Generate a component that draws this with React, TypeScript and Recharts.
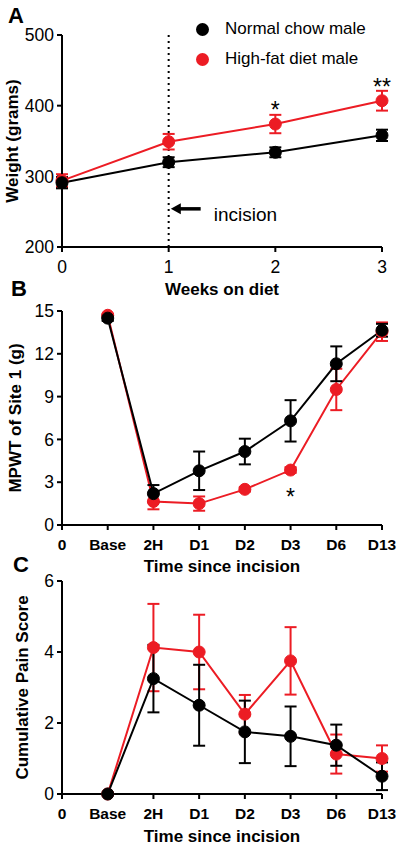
import React from "react";
import {
  LineChart,
  Line,
  XAxis,
  YAxis,
  ErrorBar,
  ReferenceLine,
  ReferenceDot,
  Legend,
  Label,
} from "recharts";

const FONT = '"Liberation Sans", Arial, Helvetica, sans-serif';
const BLACK = "#000000";
const RED = "#ec1c24";

// A: body weight over weeks on diet
const weeks = [0, 1, 2, 3];
const chowWeight = [291, 320, 334, 358];
const chowWeightErr = [8, 7, 7, 8];
const hfdWeight = [294, 349, 374, 407];
const hfdWeightErr = [9, 11, 13, 14];
const weightTicks = [200, 300, 400, 500];

// B + C: time since incision (position 0 is the empty "0" slot)
const timeLabels = ["0", "Base", "2H", "D1", "D2", "D3", "D6", "D13"];
const timePos = [1, 2, 3, 4, 5, 6, 7];
const timeTicks = [0, 1, 2, 3, 4, 5, 6, 7];

// B: MPWT of site 1 (g)
const chowMpwt = [14.5, 2.2, 3.8, 5.15, 7.3, 11.3, 13.65];
const chowMpwtErr = [0.2, 0.6, 1.35, 0.9, 1.45, 1.22, 0.45];
const hfdMpwt = [14.7, 1.65, 1.5, 2.5, 3.85, 9.5, 13.55];
const hfdMpwtErr = [0.1, 0.55, 0.5, 0.15, 0.2, 1.45, 0.65];
const mpwtTicks = [0, 3, 6, 9, 12, 15];

// C: cumulative pain score
const chowPain = [0, 3.25, 2.5, 1.75, 1.625, 1.375, 0.5];
const chowPainErr = [0, 0.95, 1.14, 0.88, 0.84, 0.58, 0.39];
const hfdPain = [0, 4.125, 4.0, 2.25, 3.75, 1.125, 1.0];
const hfdPainErr = [0, 1.23, 1.05, 0.54, 0.95, 0.55, 0.37];
const painTicks = [0, 2, 4, 6];

const weightData = weeks.map((w, i) => ({
  x: w,
  chow: chowWeight[i],
  chowErr: chowWeightErr[i],
  hfd: hfdWeight[i],
  hfdErr: hfdWeightErr[i],
}));

const mpwtData = timePos.map((t, i) => ({
  x: t,
  chow: chowMpwt[i],
  chowErr: chowMpwtErr[i],
  hfd: hfdMpwt[i],
  hfdErr: hfdMpwtErr[i],
}));

const painData = timePos.map((t, i) => ({
  x: t,
  chow: chowPain[i],
  chowErr: chowPainErr[i],
  hfd: hfdPain[i],
  hfdErr: hfdPainErr[i],
}));

const axisLine = { stroke: BLACK, strokeWidth: 2 };
const tickLine = { stroke: BLACK, strokeWidth: 2 };
const numTick = { fill: BLACK, fontSize: 17.5, fontFamily: FONT };
const catTick = { fill: BLACK, fontSize: 15.5, fontWeight: 700, fontFamily: FONT };

const yLabel = (text: string, baseX: number) => (props: any) => {
  const vb = props.viewBox;
  const cy = vb.y + vb.height / 2;
  return (
    <text
      x={baseX}
      y={cy}
      transform={`rotate(-90 ${baseX} ${cy})`}
      textAnchor="middle"
      fontSize={17}
      fontWeight={700}
      fontFamily={FONT}
      fill={BLACK}
    >
      {text}
    </text>
  );
};

const xLabel = (text: string, baseY: number) => (props: any) => {
  const vb = props.viewBox;
  return (
    <text
      x={vb.x + vb.width / 2}
      y={baseY}
      textAnchor="middle"
      fontSize={17}
      fontWeight={700}
      fontFamily={FONT}
      fill={BLACK}
    >
      {text}
    </text>
  );
};

// arrow pointing at the incision line, with its caption
const IncisionArrow = (p: any) => {
  const left = Math.min(p.x1, p.x2);
  const right = Math.max(p.x1, p.x2);
  const y = p.y1;
  return (
    <g>
      <line x1={left + 8} y1={y} x2={right} y2={y} stroke={BLACK} strokeWidth={3.5} />
      <polygon points={`${left},${y} ${left + 10},${y - 5.5} ${left + 10},${y + 5.5}`} fill={BLACK} />
      <text x={right + 13} y={y + 12} fontSize={19} fontFamily={FONT} fill={BLACK}>
        incision
      </text>
    </g>
  );
};

const LegendBox = ({ payload }: any) => {
  const items = [...(payload || [])].reverse();
  return (
    <div style={{ fontFamily: FONT }}>
      {items.map((it: any) => (
        <div key={it.value} style={{ height: 30, display: "flex", alignItems: "center" }}>
          <span
            style={{
              width: 13,
              height: 13,
              borderRadius: "50%",
              background: it.color,
              display: "inline-block",
              marginRight: 16,
            }}
          />
          <span style={{ fontSize: 17, color: BLACK }}>{it.value}</span>
        </div>
      ))}
    </div>
  );
};

const star = (text: string) => ({
  value: text,
  position: "center" as const,
  fontSize: 23,
  fill: BLACK,
  fontFamily: FONT,
});

const seriesLines = () => [
  <Line
    key="hfd"
    dataKey="hfd"
    name="High-fat diet male"
    stroke={RED}
    strokeWidth={2}
    dot={{ r: 6, fill: RED, stroke: RED, strokeWidth: 1 }}
    activeDot={false}
    isAnimationActive={false}
  >
    <ErrorBar dataKey="hfdErr" width={6} stroke={RED} strokeWidth={2} />
  </Line>,
  <Line
    key="chow"
    dataKey="chow"
    name="Normal chow male"
    stroke={BLACK}
    strokeWidth={2}
    dot={{ r: 6, fill: BLACK, stroke: BLACK, strokeWidth: 1 }}
    activeDot={false}
    isAnimationActive={false}
  >
    <ErrorBar dataKey="chowErr" width={6} stroke={BLACK} strokeWidth={2} />
  </Line>,
];

export default function App() {
  return (
    <div style={{ position: "absolute", top: 0, left: 0, width: 400, height: 847, background: "#fff" }}>
      <div style={{ position: "absolute", top: 0, left: 0 }}>
        <LineChart width={400} height={300} data={weightData} margin={{ top: 35, right: 18, left: 0, bottom: 0 }}>
          <XAxis
            type="number"
            dataKey="x"
            domain={[0, 3]}
            ticks={weeks}
            interval={0}
            height={53}
            axisLine={axisLine}
            tickLine={tickLine}
            tickSize={5}
            tickMargin={9}
            tick={numTick}
          >
            <Label content={xLabel("Weeks on diet", 295)} />
          </XAxis>
          <YAxis
            type="number"
            domain={[200, 500]}
            ticks={weightTicks}
            interval={0}
            width={62}
            axisLine={axisLine}
            tickLine={tickLine}
            tickSize={5}
            tickMargin={3}
            tick={numTick}
          >
            <Label content={yLabel("Weight (grams)", 18)} />
          </YAxis>
          <ReferenceLine x={1} stroke={BLACK} strokeWidth={2} strokeDasharray="2 4" />
          <ReferenceLine
            segment={[
              { x: 1.02, y: 254 },
              { x: 1.3, y: 254 },
            ]}
            shape={IncisionArrow}
          />
          <Legend
            layout="vertical"
            align="center"
            verticalAlign="middle"
            wrapperStyle={{ top: 14, left: 196, width: 200 }}
            content={<LegendBox />}
          />
          {seriesLines()}
          <ReferenceDot x={2} y={394} r={0} fill="none" stroke="none" label={star("*")} />
          <ReferenceDot x={3} y={426} r={0} fill="none" stroke="none" label={star("**")} />
        </LineChart>
      </div>

      <div style={{ position: "absolute", top: 280, left: 0 }}>
        <LineChart width={400} height={300} data={mpwtData} margin={{ top: 31, right: 18, left: 0, bottom: 0 }}>
          <XAxis
            type="number"
            dataKey="x"
            domain={[0, 7]}
            ticks={timeTicks}
            interval={0}
            height={55}
            axisLine={axisLine}
            tickLine={tickLine}
            tickSize={5}
            tickMargin={9}
            tick={catTick}
            tickFormatter={(v: number) => timeLabels[v]}
          >
            <Label content={xLabel("Time since incision", 292)} />
          </XAxis>
          <YAxis
            type="number"
            domain={[0, 15]}
            ticks={mpwtTicks}
            interval={0}
            width={62}
            axisLine={axisLine}
            tickLine={tickLine}
            tickSize={5}
            tickMargin={3}
            tick={numTick}
          >
            <Label content={yLabel("MPWT of Site 1 (g)", 21)} />
          </YAxis>
          {seriesLines()}
          <ReferenceDot x={5} y={2.0} r={0} fill="none" stroke="none" label={star("*")} />
        </LineChart>
      </div>

      <div style={{ position: "absolute", top: 560, left: 0 }}>
        <LineChart width={400} height={287} data={painData} margin={{ top: 21, right: 18, left: 0, bottom: 0 }}>
          <XAxis
            type="number"
            dataKey="x"
            domain={[0, 7]}
            ticks={timeTicks}
            interval={0}
            height={53}
            axisLine={axisLine}
            tickLine={tickLine}
            tickSize={5}
            tickMargin={9}
            tick={catTick}
            tickFormatter={(v: number) => timeLabels[v]}
          >
            <Label content={xLabel("Time since incision", 282)} />
          </XAxis>
          <YAxis
            type="number"
            domain={[0, 6]}
            ticks={painTicks}
            interval={0}
            width={62}
            axisLine={axisLine}
            tickLine={tickLine}
            tickSize={5}
            tickMargin={3}
            tick={numTick}
          >
            <Label content={yLabel("Cumulative Pain Score", 28)} />
          </YAxis>
          {seriesLines()}
        </LineChart>
      </div>

      <svg
        width={400}
        height={847}
        style={{ position: "absolute", top: 0, left: 0, pointerEvents: "none" }}
      >
        <g fontFamily={FONT} fontWeight={700} fontSize={22} fill={BLACK}>
          <text x={8} y={23}>A</text>
          <text x={11} y={296}>B</text>
          <text x={13} y={572}>C</text>
        </g>
      </svg>
    </div>
  );
}
